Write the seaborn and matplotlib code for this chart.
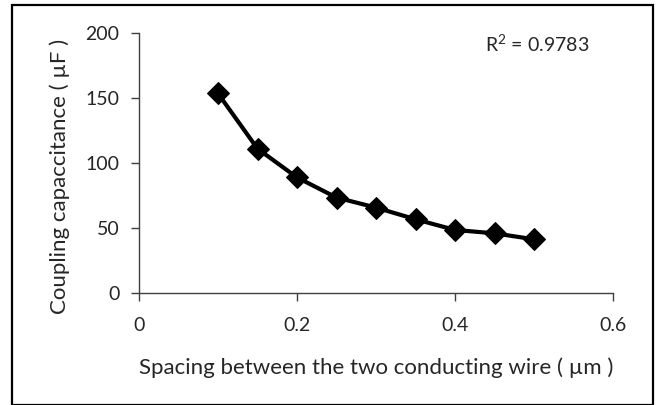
import numpy as np
import pandas as pd
import matplotlib
matplotlib.use("Agg")
import matplotlib.pyplot as plt
import seaborn as sns
from matplotlib.patches import Rectangle

spacing = [0.10, 0.15, 0.20, 0.25, 0.30, 0.35, 0.40, 0.45, 0.50]
capacitance = [153.5, 111.0, 88.9, 73.4, 65.7, 56.7, 48.5, 45.9, 41.3]
x_ticks = [0, 0.2, 0.4, 0.6]
x_tick_labels = ["0", "0.2", "0.4", "0.6"]
y_ticks = [0, 50, 100, 150, 200]
r2_text = "R$^2$ = 0.9783"

df = pd.DataFrame({"spacing": spacing, "cap": capacitance})

sns.set_theme(style="white")
plt.rcParams["font.family"] = ["Lato", "DejaVu Sans"]
plt.rcParams["mathtext.fontset"] = "custom"
plt.rcParams["mathtext.rm"] = "Lato"

fig = plt.figure(figsize=(6.57, 4.05), dpi=100)
ax = fig.add_axes([139 / 657, 1 - 293 / 405, (613 - 139) / 657, (293 - 33) / 405])

sns.lineplot(data=df, x="spacing", y="cap", ax=ax, color="black", linewidth=3,
             marker="D", markersize=11, markeredgecolor="black", markerfacecolor="black")

ax.set_xlim(0, 0.6)
ax.set_ylim(0, 200)
ax.set_xticks(x_ticks)
ax.set_xticklabels(x_tick_labels)
ax.set_yticks(y_ticks)
ax.tick_params(axis="both", which="major", labelsize=14, direction="out", length=6,
               width=1, color="#404040", left=True, bottom=True, pad=8)
ax.tick_params(axis="x", pad=11)
for side in ["top", "right"]:
    ax.spines[side].set_visible(False)
for side in ["left", "bottom"]:
    ax.spines[side].set_color("#404040")
    ax.spines[side].set_linewidth(1)

ax.set_xlabel("Spacing between the two conducting wire ( µm )", fontsize=16, labelpad=17)
ax.set_ylabel("Coupling capaccitance ( µF )", fontsize=16)
ax.yaxis.set_label_coords(-0.146, 0.45)

ax.text(0.73, 0.96, r2_text, transform=ax.transAxes, fontsize=14, va="center", ha="left")

fig.patches.append(Rectangle((12 / 657, 0.0), (653 - 12) / 657, 1 - 5 / 405,
                             transform=fig.transFigure, fill=False, edgecolor="black",
                             linewidth=1.6))

fig.savefig("out.png", dpi=100)
